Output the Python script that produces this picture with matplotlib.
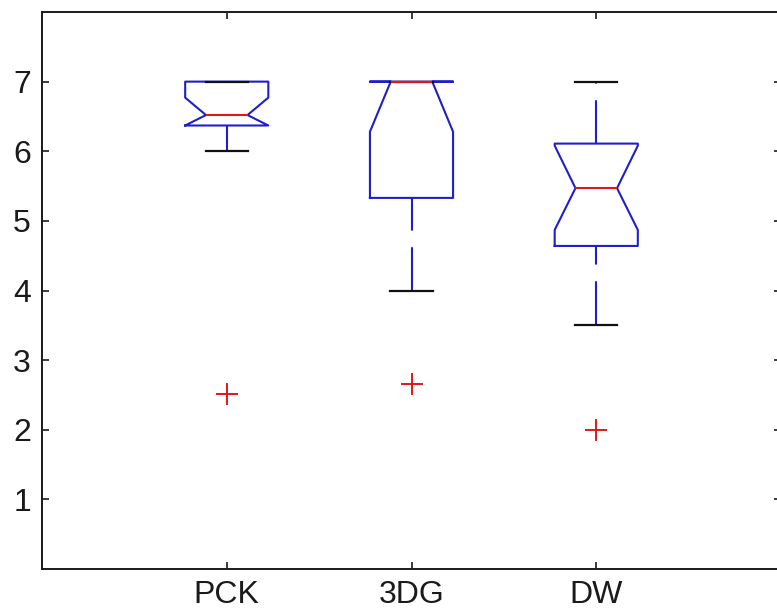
import matplotlib
matplotlib.use("Agg")
import matplotlib.pyplot as plt

plt.rcParams.update({
    "font.family": ["Liberation Sans", "DejaVu Sans"], "font.size": 23,
})
BLUE = "#1f1fc8"
RED = "#e01818"
BLACK = "#111111"

# summary values
groups = ["PCK", "3DG", "DW"]
q1 = [6.37, 5.33, 4.64]
med = [6.52, 7.0, 5.47]
q3 = [7.0, 7.0, 6.11]
notch_lo = [6.37, 6.28, 4.87]
notch_hi = [6.77, 7.0, 6.08]
whis_lo = [6.0, 4.0, 3.5]
whis_hi = [7.0, 7.0, 7.0]
outliers = [[2.51], [2.66], [1.99]]

stats = []
for i, g in enumerate(groups):
    stats.append(dict(label=g, q1=q1[i], med=med[i], q3=q3[i],
                      cilo=notch_lo[i], cihi=notch_hi[i],
                      whislo=whis_lo[i], whishi=whis_hi[i],
                      fliers=outliers[i]))

fig = plt.figure(figsize=(7.77, 6.15), dpi=100)
ax = fig.add_axes([42 / 777, 46 / 615, 739 / 777, 557 / 615])

res = ax.bxp(stats, positions=[1, 2, 3], widths=0.45, shownotches=True,
             capwidths=0.23,
             boxprops=dict(color=BLUE, lw=1.5),
             whiskerprops=dict(color=BLUE, lw=1.5, linestyle=(0, (21, 8))),
             capprops=dict(color=BLACK, lw=1.6),
             medianprops=dict(color=RED, lw=1.5),
             flierprops=dict(marker="+", markersize=16, markeredgecolor=RED,
                             markeredgewidth=1.4, linestyle="none"))
# lower whiskers run upward from the cap, like the original
for ln in res["whiskers"][0::2]:
    ln.set_ydata(ln.get_ydata()[::-1])

ax.set_xlim(0, 4)
ax.set_ylim(0, 8)
ax.set_yticks(range(1, 8))
ax.set_xticks([1, 2, 3])
ax.set_xticklabels(groups)
ax.tick_params(direction="in", length=5, width=1.2, pad=8,
               top=True, right=True, colors="#1a1a1a")
for s in ax.spines.values():
    s.set_linewidth(1.4)
    s.set_color("#1a1a1a")

fig.savefig("out.png", dpi=100)
